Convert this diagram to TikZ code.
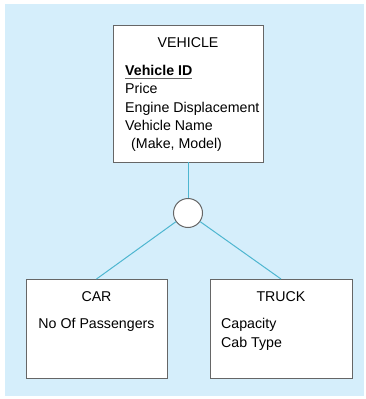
\documentclass[tikz,border=0pt]{standalone}
\usepackage{fontspec}
\setmainfont{Liberation Sans}
\begin{document}
\begin{tikzpicture}[x=1pt,y=-1pt,
  entity/.style={draw=black!60, line width=1pt, fill=white},
  link/.style={draw=linkblue, line width=1pt},
  txt/.style={inner sep=0pt, font=\fontsize{14.2}{17}\selectfont},
  title/.style={txt, anchor=base},
  attr/.style={txt, anchor=base west}]
\definecolor{bgblue}{RGB}{213,238,251}
\definecolor{linkblue}{RGB}{78,182,208}
\useasboundingbox (0,0) rectangle (366,399);
% background panel
\fill[bgblue] (5,4) rectangle (364,396);

% entity boxes
\path[entity] (113,25) rectangle (263,162);
\path[entity] (26,279) rectangle (167,378);
\path[entity] (210,279) rectangle (352,378);
\coordinate (vbot) at (188,162);
\coordinate (ctop) at (96.5,279);
\coordinate (ttop) at (281,279);

% subtype circle and connectors
\node[circle, draw=black!60, line width=1pt, fill=white, minimum size=29pt, inner sep=0pt] (d) at (188,213) {};
\draw[link] (vbot) -- (d);
\draw[link] (d) -- (ctop);
\draw[link] (d) -- (ttop);

% supertype text
\node[title] (vt) at (188,47) {VEHICLE};
\node[attr] (vid) at (125,75) {\textbf{Vehicle ID}};
\draw[black!60, line width=1.4pt] ([yshift=-3.5pt]vid.base west) -- ([yshift=-3.5pt]vid.base east);
\node[attr] (vp) at (125,93.5) {Price};
\node[attr] (ve) at (125,112) {Engine Displacement};
\node[attr] (vn) at (125,130) {Vehicle Name};
\node[attr] (vm) at (131,148) {(Make, Model)};

% subtype text
\node[title] (ct) at (96.5,301) {CAR};
\node[title] (cp) at (96.5,328) {No Of Passengers};
\node[title] (tt) at (281,301) {TRUCK};
\node[attr] (tc) at (221,328) {Capacity};
\node[attr] (tb) at (221,347) {Cab Type};
\end{tikzpicture}
\end{document}
